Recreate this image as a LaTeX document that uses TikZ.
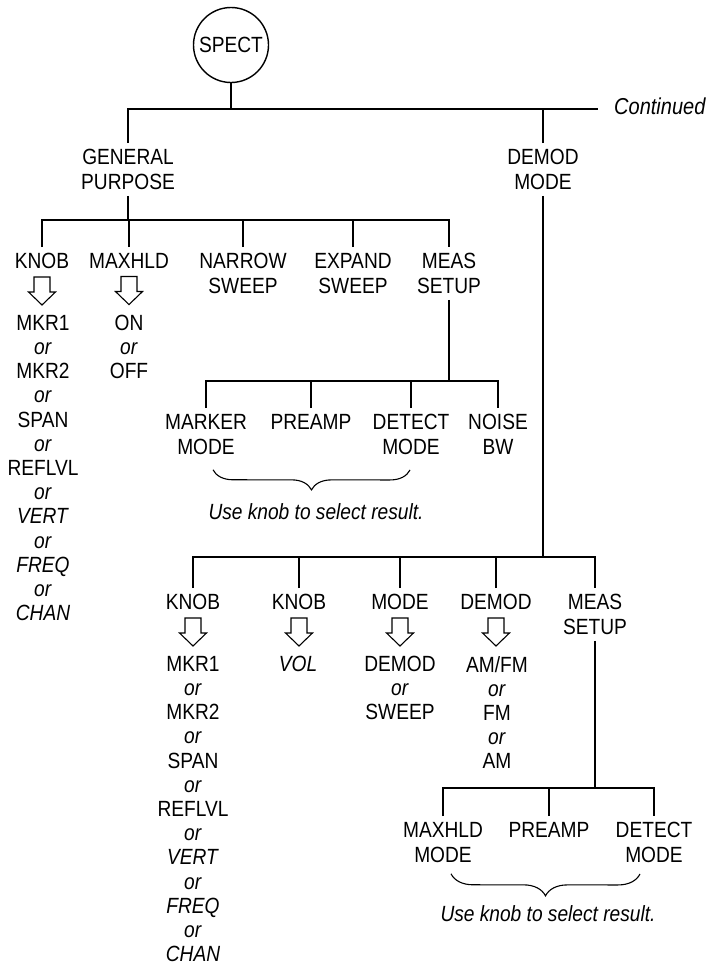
\documentclass[tikz,border=0pt]{standalone}
\usepackage{fontspec}
\setmainfont{Liberation Sans}[FakeStretch=0.87]
\usetikzlibrary{calc, decorations.pathreplacing}
\newcommand{\ortxt}{\textit{or}}

\begin{document}
\begin{tikzpicture}[x=1pt, y=-1pt,
    menu/.style={inner xsep=0pt, inner ysep=6pt, anchor=north, align=center, font=\fontsize{22}{25}\selectfont},
    choice/.style={inner sep=0pt, anchor=north, align=center, font=\fontsize{22}{24.2}\selectfont},
    note/.style={inner sep=0pt, anchor=north, font=\fontsize{22}{25}\selectfont\itshape},
    tree/.style={line width=2.4pt},
    curly/.style={line width=1.1pt, decorate, decoration={brace, amplitude=#1}},
    downarrow/.pic={\draw[line width=1.1pt, line join=miter] (-8,-14) -- (8,-14) -- (8,1) -- (13.5,1) -- (0,14) -- (-13.5,1) -- (-8,1) -- cycle;}
]
\path[use as bounding box, fill=white] (0,0) rectangle (712,967);

% top level
\node[circle, draw, line width=1.4pt, minimum size=75pt, inner sep=0pt, font=\fontsize{22}{25}\selectfont] (spect) at (231,45) {SPECT};
\coordinate (b1) at (0,109);
\node[note, anchor=west, font=\fontsize{23}{25}\selectfont\itshape] (cont) at (614,106) {Continued};
\node[menu] (gp) at (128,143) {GENERAL\\PURPOSE};
\node[menu] (dm) at (543,143) {DEMOD\\MODE};
\draw[tree] (spect.south) -- (spect.south |- b1);
\draw[tree] (gp.north) |- (b1 -| 598,0);
\draw[tree] (dm.north) -- (dm.north |- b1);

% general purpose
\coordinate (b2) at (0,220);
\foreach \x/\n/\t in {42/knobA/KNOB, 129/holdA/MAXHLD, 243/narrow/NARROW\\SWEEP, 353/expand/EXPAND\\SWEEP, 449/measA/MEAS\\SETUP}
    \node[menu] (\n) at (\x,247) {\t};
\draw[tree] (knobA.north) |- (measA.north |- b2) -- (measA.north);
\draw[tree] (gp.south) -- (gp.south |- b2);
\foreach \n in {holdA, narrow, expand}
    \draw[tree] (\n.north) -- (\n.north |- b2);
\foreach \n in {knobA, holdA}
    \pic at ($(\n.south)+(0,16)$) {downarrow};
\node[choice] (knobsA) at (43,315) {MKR1\\\ortxt\\MKR2\\\ortxt\\SPAN\\\ortxt\\REFLVL\\\ortxt\\\textit{VERT}\\\ortxt\\\textit{FREQ}\\\ortxt\\\textit{CHAN}};
\node[choice] (holdsA) at (129,315) {ON\\\ortxt\\OFF};

% meas setup
\coordinate (b3) at (0,381);
\foreach \x/\n/\t in {206/marker/MARKER\\MODE, 311/preampA/PREAMP, 411/detectA/DETECT\\MODE, 498/noise/NOISE\\BW}
    \node[menu] (\n) at (\x,408) {\t};
\draw[tree] (marker.north) |- (noise.north |- b3) -- (noise.north);
\draw[tree] (measA.south) -- (measA.south |- b3);
\foreach \n in {preampA, detectA}
    \draw[tree] (\n.north) -- (\n.north |- b3);
\draw[curly=20pt] ($(detectA.south)+(-1,9)$) -- ($(marker.south)+(7,9)$);
\node[note] (hintA) at (316,503) {Use knob to select result.};

% demod mode
\coordinate (b4) at (0,557);
\foreach \x/\n/\t in {193/knobB/KNOB, 299/knobC/KNOB, 400/modeC/MODE, 496/demodC/DEMOD, 595/measB/MEAS\\SETUP}
    \node[menu] (\n) at (\x,588) {\t};
\draw[tree] (knobB.north) |- (measB.north |- b4) -- (measB.north);
\draw[tree] (dm.south) -- (dm.south |- b4);
\foreach \n in {knobC, modeC, demodC}
    \draw[tree] (\n.north) -- (\n.north |- b4);
\foreach \n in {knobB, knobC, modeC, demodC}
    \pic at ($(\n.south)+(0,16)$) {downarrow};
\node[choice] (knobsB) at (193,656) {MKR1\\\ortxt\\MKR2\\\ortxt\\SPAN\\\ortxt\\REFLVL\\\ortxt\\\textit{VERT}\\\ortxt\\\textit{FREQ}\\\ortxt\\\textit{CHAN}};
\node[choice] (volC) at (298,656) {\textit{VOL}};
\node[choice] (modesC) at (400,656) {DEMOD\\\ortxt\\SWEEP};
\node[choice] (demodsC) at (497,656) {AM/FM\\\ortxt\\FM\\\ortxt\\AM};

% meas setup (demod)
\coordinate (b5) at (0,788);
\foreach \x/\n/\t in {443/maxB/MAXHLD\\MODE, 549/preampB/PREAMP, 654/detectB/DETECT\\MODE}
    \node[menu] (\n) at (\x,816) {\t};
\draw[tree] (maxB.north) |- (detectB.north |- b5) -- (detectB.north);
\draw[tree] (measB.south) -- (measB.south |- b5);
\draw[tree] (preampB.north) -- (preampB.north |- b5);
\draw[curly=22pt] ($(detectB.south)+(-14,5)$) -- ($(maxB.south)+(8,5)$);
\node[note] (hintB) at (548,905) {Use knob to select result.};
\end{tikzpicture}
\end{document}
